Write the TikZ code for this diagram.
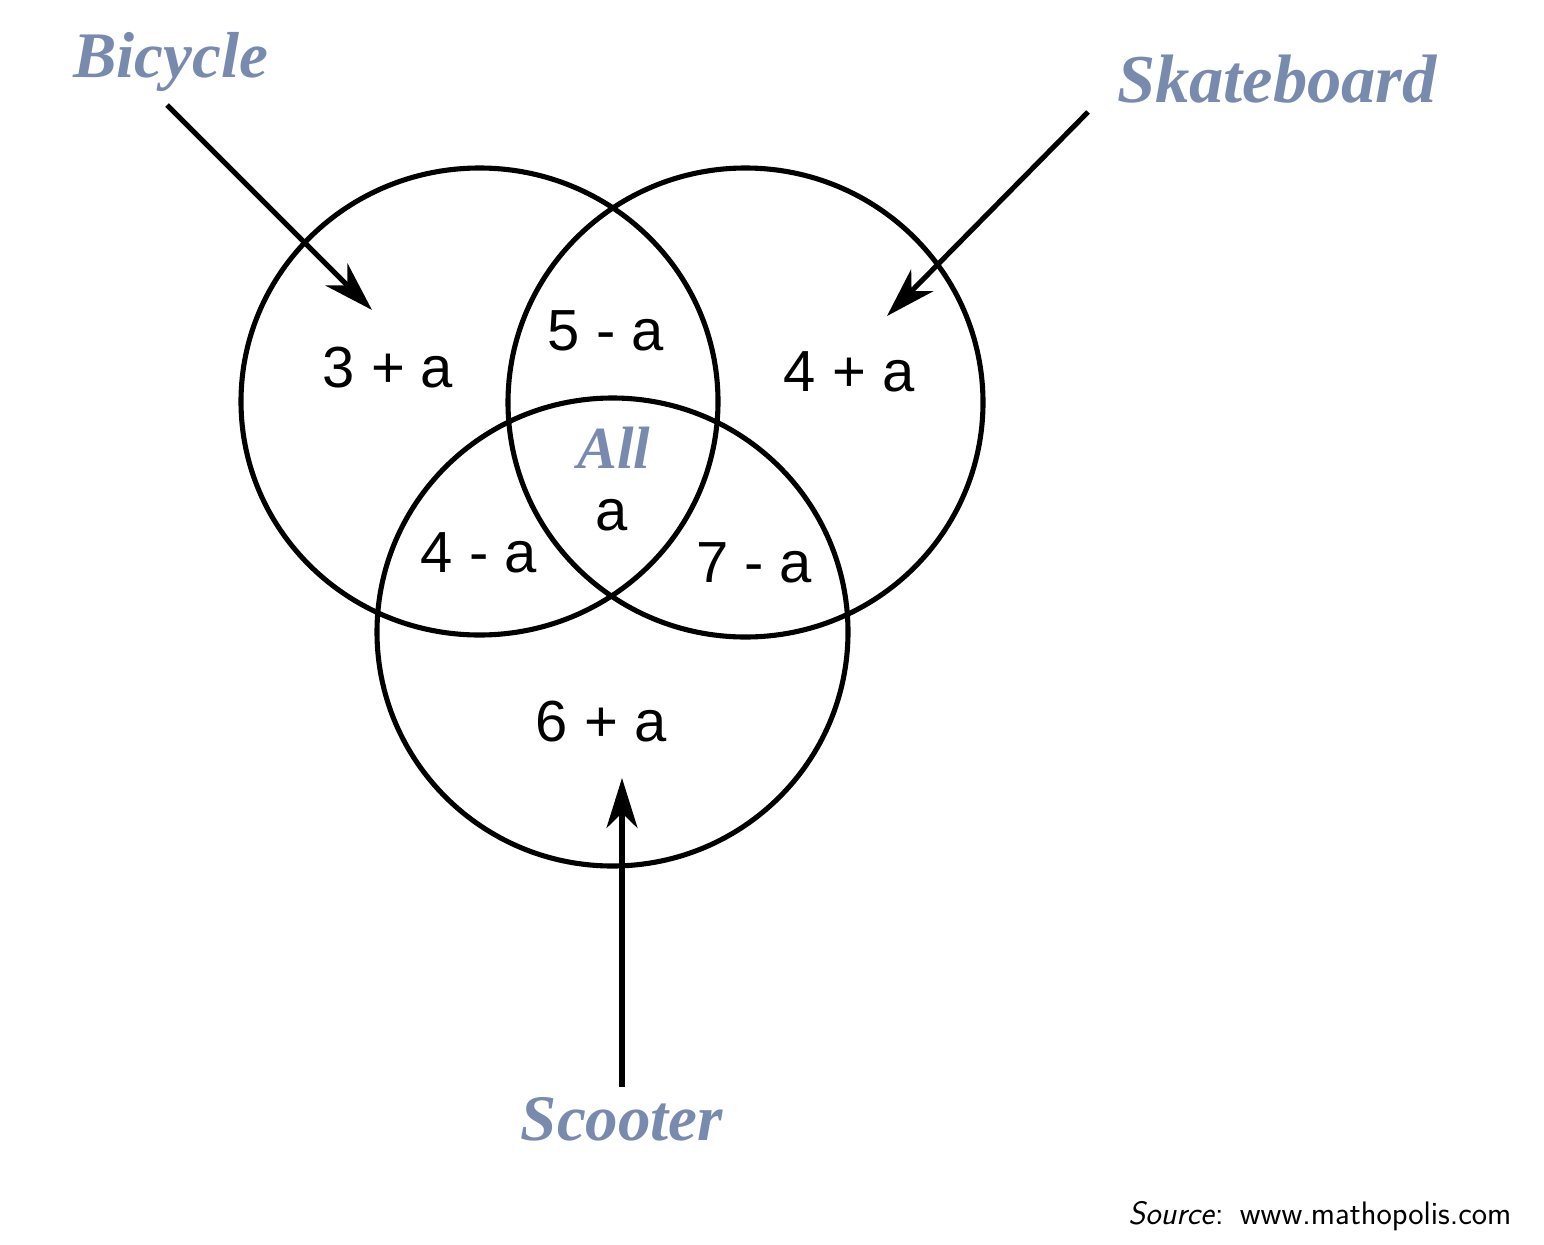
\documentclass[tikz,border=0pt]{standalone}
\usepackage{fontspec}
\usetikzlibrary{arrows.meta}
\newfontfamily\numfont{Liberation Sans}
\newfontfamily\labfont{Liberation Serif}
\definecolor{labblue}{RGB}{120,139,175}
\tikzset{
  ring/.style={line width=2.9pt, black},
  num/.style={inner sep=0pt, anchor=center, font=\numfont\fontsize{33}{36}\selectfont},
  setlab/.style={inner sep=0pt, anchor=base, text=labblue, font=\labfont\bfseries\itshape\fontsize{37}{40}\selectfont},
  pointer/.style={line width=2.9pt, -{Stealth[length=1.0cm, width=0.62cm, inset=0.3cm]}},
}
\begin{document}
\begin{tikzpicture}[x=0.02cm, y=-0.02cm]
\useasboundingbox[fill=white] (0,0) rectangle (1544,1244);
% circles
\draw[ring] (479.5,401.5) ellipse [x radius=238.5, y radius=233.5];
\draw[ring] (745.5,402.5) ellipse [x radius=237.5, y radius=234.5];
\draw[ring] (612.5,632) ellipse [x radius=235.5, y radius=234];
% region numbers
\node[num] (n3) at (388,368) {3 + a};
\node[num] (n5) at (606,331) {5 - a};
\node[num] (n4p) at (849,372) {4 + a};
\node[num] (na) at (612,515) {a};
\node[num] (n4m) at (479,553) {4 - a};
\node[num] (n7) at (754,563) {7 - a};
\node[num] (n6) at (601,722) {6 + a};
\node[setlab, anchor=center, font=\labfont\bfseries\itshape\fontsize{34}{36}\selectfont] (all) at (614,448) {All};
% set labels
\node[setlab] (bic) at (171,77) {Bicycle};
\node[setlab, font=\labfont\bfseries\itshape\fontsize{39}{42}\selectfont] (sk) at (1277,102) {Skateboard};
\node[setlab] (sc) at (622,1140) {Scooter};
% arrows
\coordinate (bs) at (167,105);
\coordinate (bt) at (372,310);
\coordinate (ks) at (1088,112);
\coordinate (kt) at (887,316);
\coordinate (ss) at (622,1087);
\coordinate (st) at (622,778);
\draw[pointer] (bs) -- (bt);
\draw[pointer] (ks) -- (kt);
\draw[pointer] (ss) -- (st);
% source
\node[inner sep=0pt, anchor=base west, font=\sffamily\fontsize{18.5}{22}\selectfont] (src) at (1128,1224) {\textit{Source}:\hspace{0.5em}www.mathopolis.com};
\end{tikzpicture}
\end{document}
